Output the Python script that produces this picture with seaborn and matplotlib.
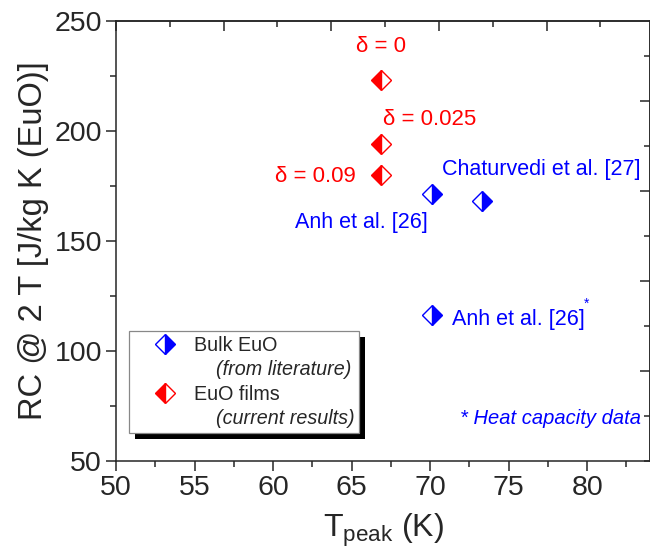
import numpy as np
import pandas as pd
import matplotlib
matplotlib.use('Agg')
import matplotlib.pyplot as plt
import seaborn as sns
from matplotlib.lines import Line2D
from matplotlib.patches import Rectangle
from matplotlib.ticker import MultipleLocator
from matplotlib.transforms import IdentityTransform

# ── data ──────────────────────────────────────────────────
film_t = [66.9, 66.9, 66.9]
film_rc = [223.0, 194.0, 180.0]
film_labels = ['δ = 0', 'δ = 0.025', 'δ = 0.09']

bulk_t = [70.1, 73.3, 70.1]
bulk_rc = [171.4, 168.0, 116.4]
bulk_labels = ['Anh et al. [26]', 'Chaturvedi et al. [27]', 'Anh et al. [26]']

x_ticks = [50, 55, 60, 65, 70, 75, 80]
y_ticks = [50, 100, 150, 200, 250]

films = pd.DataFrame({'T': film_t, 'RC': film_rc})
bulk = pd.DataFrame({'T': bulk_t, 'RC': bulk_rc})

# ── style ─────────────────────────────────────────────────
sns.set_style('ticks')
plt.rcParams['font.family'] = ['Liberation Sans', 'DejaVu Sans']
plt.rcParams['mathtext.fontset'] = 'custom'
plt.rcParams['mathtext.rm'] = 'Liberation Sans'
plt.rcParams['mathtext.it'] = 'Liberation Sans:italic'
plt.rcParams['axes.linewidth'] = 1.1

fig = plt.figure(figsize=(6.5, 5.59), dpi=100)
ax = fig.add_axes([116 / 650, 1 - 461 / 559, 534 / 650, 440 / 559])

mk = dict(marker='D', markersize=10.5, markeredgewidth=1.0, linestyle='none')
sns.lineplot(data=bulk, x='T', y='RC', ax=ax, estimator=None, sort=False,
             legend=False, color='blue', markerfacecolor='blue',
             markerfacecoloralt='white', markeredgecolor='blue',
             fillstyle='right', zorder=3, **mk)
sns.lineplot(data=films, x='T', y='RC', ax=ax, estimator=None, sort=False,
             legend=False, color='red', markerfacecolor='red',
             markerfacecoloralt='white', markeredgecolor='red',
             fillstyle='left', zorder=3, **mk)

ax.set_xlim(50, 84.0)
ax.set_ylim(50, 250)
ax.set_xticks(x_ticks)
ax.set_yticks(y_ticks)
ax.xaxis.set_minor_locator(MultipleLocator(2.5))
ax.yaxis.set_minor_locator(MultipleLocator(25))
ax.tick_params(which='major', direction='out', length=7, width=1.1,
               labelsize=20.5, pad=3, top=False, right=False)
ax.tick_params(which='minor', direction='out', length=4, width=1.1,
               top=False, right=False)

ax.set_xlabel(r'T$_{\mathrm{peak}}$ (K)', fontsize=23, labelpad=8)
ax.set_ylabel('RC @ 2 T [J/kg K (EuO)]', fontsize=23.5, labelpad=4)

# top / right axes carry their own inward ticks
top = ax.secondary_xaxis('top', functions=(lambda x: (x - 50) / 6.853,
                                           lambda t: t * 6.853 + 50))
top.set_xticks([0, 1, 2, 3, 4])
top.xaxis.set_minor_locator(MultipleLocator(0.5))
top.tick_params(which='major', direction='in', length=7, width=1.1, labeltop=False)
top.tick_params(which='minor', direction='in', length=4, width=1.1)

right = ax.secondary_yaxis('right', functions=(lambda y: (y - 50) / 40.9,
                                               lambda r: r * 40.9 + 50))
right.set_yticks([1, 2, 3, 4])
right.yaxis.set_minor_locator(MultipleLocator(0.5))
right.tick_params(which='major', direction='in', length=7, width=1.1, labelright=False)
right.tick_params(which='minor', direction='in', length=4, width=1.1)

# ── annotations ───────────────────────────────────────────
red_pos = [(66.9, 238.2, 'center'), (70.0, 205.0, 'center'), (65.25, 179.5, 'right')]
for (x, y, ha), lab in zip(red_pos, film_labels):
    ax.text(x, y, lab, color='red', fontsize=16, ha=ha, va='center')

blue_pos = [(61.4, 158.2), (70.75, 182.7), (71.4, 114.1)]
for (x, y), lab in zip(blue_pos, bulk_labels):
    ax.text(x, y, lab, color='blue', fontsize=15.5, ha='left', va='center')
ax.text(79.8, 121.5, '*', color='blue', fontsize=10, ha='left', va='center')
ax.text(83.4, 69.1, '* Heat capacity data', color='blue', fontsize=14.5,
        style='italic', ha='right', va='center')

# ── legend with a hard black shadow ───────────────────────
handles = [
    Line2D([], [], color='blue', markerfacecolor='blue', markerfacecoloralt='white',
           markeredgecolor='blue', fillstyle='right', **mk),
    Line2D([], [], linestyle='none'),
    Line2D([], [], color='red', markerfacecolor='red', markerfacecoloralt='white',
           markeredgecolor='red', fillstyle='left', **mk),
    Line2D([], [], linestyle='none'),
]
labels = ['Bulk EuO', '    (from literature)',
          'EuO films', '    (current results)']
leg = ax.legend(handles, labels, loc='lower left', bbox_to_anchor=(0.024, 0.064),
                borderaxespad=0, fontsize=14.2, fancybox=False, framealpha=1,
                edgecolor='#888888', handlelength=3.2, handletextpad=-0.15,
                borderpad=0.23, labelspacing=0.28, numpoints=1)
leg.get_texts()[1].set_fontstyle('italic')
leg.get_texts()[3].set_fontstyle('italic')
leg.get_frame().set_linewidth(0.9)
leg.set_zorder(6)

fig.canvas.draw()
bb = leg.get_window_extent()
shadow = Rectangle((bb.x0 + 6, bb.y0 - 6), bb.width, bb.height,
                   transform=IdentityTransform(), facecolor='black',
                   edgecolor='none', zorder=5.9, clip_on=False)
ax.add_artist(shadow)

fig.savefig('out.png', dpi=100)
